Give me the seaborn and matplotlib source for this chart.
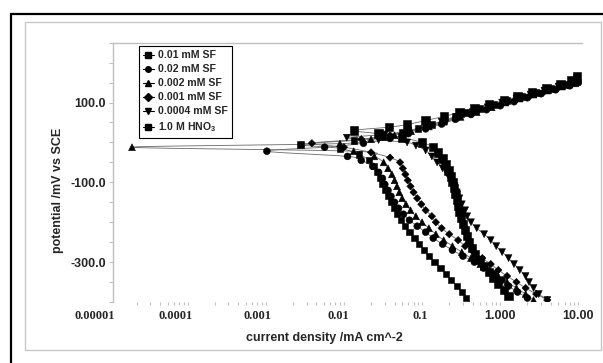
import numpy as np
import pandas as pd
import matplotlib
matplotlib.use("Agg")
import matplotlib.pyplot as plt
import matplotlib.transforms as mtransforms
from matplotlib.lines import Line2D
from matplotlib.patches import Rectangle
import seaborn as sns

# === Series labels and markers ===
series_names = ["0.01 mM SF", "0.02 mM SF", "0.002 mM SF", "0.001 mM SF",
                "0.0004 mM SF", "1.0 M HNO$_\\mathbf{3}$"]

# === Polarization data: potential (mV vs SCE) and current density (mA cm^-2) ===
pot_001 = [-420, -390, -375, -360, -345, -330, -315, -300, -285, -270, -255, -240, -225, -210,
           -195, -180, -165, -150, -135, -120, -105, -90, -75, -60, -45, -30, -15, -5,
           5, 15, 25, 35, 45, 55, 65, 75, 85, 95, 105, 115, 125, 135, 145, 155]
cur_001 = [0.45, 0.33, 0.29, 0.25, 0.21, 0.18, 0.155, 0.13, 0.11, 0.095, 0.083, 0.072, 0.062, 0.055,
           0.048, 0.043, 0.039, 0.036, 0.033, 0.030, 0.028, 0.026, 0.024, 0.022, 0.019, 0.014, 0.008, 0.0025,
           0.012, 0.028, 0.05, 0.08, 0.12, 0.17, 0.24, 0.33, 0.5, 0.75, 1.1, 1.7, 2.6, 4.0, 6.0, 8.5]

pot_002 = [-390, -375, -360, -345, -330, -315, -300, -285, -270, -255, -240, -225, -210, -195,
           -180, -165, -150, -135, -120, -105, -90, -75, -60, -45, -35, -22,
           -12, -2, 10, 22, 34, 46, 58, 70, 82, 92, 102, 112, 122, 132, 142, 150]
cur_002 = [2.0, 1.5, 1.15, 0.95, 0.75, 0.55, 0.42, 0.3, 0.22, 0.165, 0.125, 0.1, 0.078, 0.062,
           0.052, 0.045, 0.04, 0.036, 0.033, 0.030, 0.028, 0.025, 0.021, 0.015, 0.010, 0.00093,
           0.0051, 0.016, 0.035, 0.06, 0.1, 0.16, 0.24, 0.38, 0.6, 0.9, 1.35, 2.0, 3.0, 4.6, 7.0, 9.0]

pot_0002 = [-395, -380, -365, -350, -335, -320, -305, -290, -275, -260, -245, -230, -215, -200,
            -185, -170, -155, -140, -125, -110, -95, -80, -65, -50, -35, -22, -12,
            -3, 8, 18, 28, 40, 52, 64, 76, 88, 100, 110, 120, 130, 140, 148]
cur_0002 = [2.4, 1.9, 1.45, 1.1, 0.85, 0.65, 0.5, 0.38, 0.29, 0.22, 0.17, 0.135, 0.11, 0.09,
            0.075, 0.064, 0.056, 0.05, 0.046, 0.043, 0.040, 0.037, 0.033, 0.029, 0.022, 0.012, 0.0000175,
            0.008, 0.02, 0.04, 0.065, 0.11, 0.17, 0.28, 0.45, 0.7, 1.05, 1.6, 2.4, 3.6, 5.5, 8.2]

pot_0001 = [-395, -380, -365, -350, -335, -320, -305, -290, -275, -260, -245, -230, -215, -200,
            -185, -170, -155, -140, -125, -110, -95, -80, -65, -50, -38, -25, -12, -2,
            8, 18, 28, 38, 50, 62, 74, 86, 98, 108, 118, 128, 138, 148, 158]
cur_0001 = [3.6, 2.6, 1.9, 1.45, 1.1, 0.85, 0.68, 0.53, 0.41, 0.32, 0.26, 0.2, 0.16, 0.135,
            0.12, 0.1, 0.088, 0.078, 0.07, 0.064, 0.059, 0.055, 0.051, 0.047, 0.035, 0.02, 0.009, 0.0035,
            0.015, 0.035, 0.06, 0.1, 0.17, 0.26, 0.4, 0.62, 0.95, 1.45, 2.2, 3.3, 5.0, 7.5, 8.8]

pot_00004 = [-395, -380, -365, -350, -335, -320, -305, -290, -275, -260, -245, -230, -215, -200,
             -185, -170, -155, -140, -125, -110, -95, -80, -65, -50, -35, -20, -8, 0, 6, 12,
             20, 30, 40, 52, 64, 76, 88, 100, 110, 120, 130, 140, 152, 160]
cur_00004 = [3.6, 2.8, 2.4, 2.1, 1.9, 1.6, 1.35, 1.15, 0.95, 0.8, 0.68, 0.56, 0.45, 0.38,
             0.34, 0.32, 0.29, 0.27, 0.25, 0.235, 0.215, 0.19, 0.165, 0.14, 0.12, 0.1, 0.075, 0.058, 0.025, 0.0098,
             0.03, 0.06, 0.1, 0.16, 0.25, 0.4, 0.62, 0.95, 1.45, 2.2, 3.3, 5.0, 7.5, 8.6]

pot_hno3 = [-385, -370, -355, -340, -325, -310, -295, -280, -265, -250, -235, -220, -205, -190,
            -175, -160, -145, -130, -115, -100, -85, -70, -55, -40, -25, -12, 0, 12, 22, 30,
            38, 45, 55, 65, 75, 85, 95, 105, 115, 125, 135, 145, 155, 165]
cur_hno3 = [1.15, 1.0, 0.85, 0.74, 0.64, 0.56, 0.49, 0.43, 0.39, 0.36, 0.34, 0.32, 0.3, 0.285,
            0.27, 0.26, 0.25, 0.24, 0.23, 0.22, 0.21, 0.195, 0.18, 0.165, 0.145, 0.125, 0.09, 0.05, 0.025, 0.012,
            0.034, 0.058, 0.1, 0.17, 0.27, 0.42, 0.65, 1.0, 1.5, 2.3, 3.5, 5.3, 7.2, 8.6]

pots = [pot_001, pot_002, pot_0002, pot_0001, pot_00004, pot_hno3]
curs = [cur_001, cur_002, cur_0002, cur_0001, cur_00004, cur_hno3]
markers = {series_names[0]: "s", series_names[1]: "o", series_names[2]: "^",
           series_names[3]: "D", series_names[4]: "v", series_names[5]: "s"}
sizes = {series_names[0]: 20, series_names[1]: 24, series_names[2]: 24,
         series_names[3]: 14, series_names[4]: 24, series_names[5]: 36}


def smooth(cur, pot, n=14):
    # Excel-like smoothed line (uniform Catmull-Rom in log-current space)
    P = np.column_stack([np.log10(cur), np.asarray(pot, float)])
    P = np.vstack([P[0], P, P[-1]])
    t = np.linspace(0, 1, n, endpoint=False)[:, None]
    out = []
    for i in range(1, len(P) - 2):
        p0, p1, p2, p3 = P[i - 1], P[i], P[i + 1], P[i + 2]
        out.append(0.5 * (2 * p1 + (p2 - p0) * t + (2 * p0 - 5 * p1 + 4 * p2 - p3) * t ** 2
                          + (3 * p1 - p0 - 3 * p2 + p3) * t ** 3))
    out.append(P[-2][None])
    out = np.vstack(out)
    return 10 ** out[:, 0], out[:, 1]


pts = pd.concat([pd.DataFrame({"current": c, "potential": p, "series": s})
                 for s, c, p in zip(series_names, curs, pots)], ignore_index=True)
lines = []
for s, c, p in zip(series_names, curs, pots):
    sx, sy = smooth(c, p)
    lines.append(pd.DataFrame({"current": sx, "potential": sy, "series": s}))
lines = pd.concat(lines, ignore_index=True)

# === Style ===
sns.set_style("white")
plt.rcParams["font.family"] = ["Liberation Sans", "DejaVu Sans"]
plt.rcParams["mathtext.fontset"] = "custom"
plt.rcParams["mathtext.rm"] = "Liberation Sans"
plt.rcParams["mathtext.bf"] = "Liberation Sans:bold"

fig = plt.figure(figsize=(6.03, 3.63), dpi=100)
ax = fig.add_axes([113 / 603, 1 - 302 / 363, 469 / 603, 259.3 / 363])

sns.lineplot(data=lines, x="current", y="potential", units="series", estimator=None,
             sort=False, color="#6a6a6a", lw=0.6, ax=ax, legend=False)
sns.scatterplot(data=pts, x="current", y="potential", style="series", markers=markers,
                size="series", sizes=sizes, color="black", edgecolor="black", linewidth=0.4,
                ax=ax, legend=False, zorder=3)

ax.set_xscale("log")
ax.set_xlim(1e-5, 10)
ax.set_ylim(-400, 250)

# y axis
ax.set_yticks([-300, -100, 100])
ax.set_yticklabels(["-300.0", "-100.0", "100.0"], fontsize=9, fontweight="bold")
ax.set_yticks(np.arange(-400, 251, 50), minor=True)
ax.tick_params(axis="y", which="both", direction="out", length=3, width=0.8,
               color="#c0c0c0", left=True, pad=2)

# x axis
xt = [1e-5, 1e-4, 1e-3, 1e-2, 1e-1, 1, 10]
xt_labels = ["0.00001", "0.0001", "0.001", "0.01", "0.1", "1.000", "10.00"]
ax.set_xticks(xt)
ax.set_xticklabels(xt_labels, fontsize=9, fontweight="bold")
ax.set_xticks([m * d for d in xt[:-1] for m in range(2, 10)], minor=True)
ax.xaxis.set_minor_formatter(plt.NullFormatter())
ax.tick_params(axis="x", which="major", length=0, pad=6)
ax.tick_params(axis="x", which="minor", direction="out", length=2, width=0.8,
               color="#c0c0c0", bottom=True)
for i, lab in enumerate(ax.get_xticklabels()):
    lab.set_horizontalalignment("right")
    if i < 5:
        lab.set_fontfamily("Liberation Serif")
        dx = 2
    else:
        dx = 12
    lab.set_transform(lab.get_transform() + mtransforms.ScaledTranslation(dx / 100, 0, fig.dpi_scale_trans))

for side in ["right", "bottom"]:
    ax.spines[side].set_visible(False)
for side in ["left", "top"]:
    ax.spines[side].set_color("#c0c0c0")
    ax.spines[side].set_linewidth(1.0)

ax.set_xlabel("current density /mA cm^-2", fontsize=9, fontweight="bold")
ax.set_ylabel("potential /mV vs SCE", fontsize=9, fontweight="bold")
ax.xaxis.set_label_coords(0.45, -0.115)
ax.yaxis.set_label_coords(-0.105, 0.43)

# === Legend ===
handles = [Line2D([0], [0], color="black", lw=0.8, marker=markers[s],
                  markersize=(5 if s == series_names[5] else 4),
                  markerfacecolor="black", markeredgecolor="black") for s in series_names]
leg = ax.legend(handles, series_names, loc="upper left", bbox_to_anchor=(0.055, 0.987),
                borderaxespad=0, frameon=True, fancybox=False, framealpha=1,
                edgecolor="black", handlelength=1.0, handletextpad=0.4, borderpad=0.4,
                labelspacing=0.38, prop={"family": "Liberation Sans", "weight": "bold", "size": 7.6})
leg.get_frame().set_linewidth(0.8)

# === Figure frames ===
fig.patches.append(Rectangle((25 / 603, 1 - 350 / 363), 576 / 603, 328 / 363, transform=fig.transFigure,
                             fill=False, edgecolor="#c8c8c8", lw=1.0))
fig.patches.append(Rectangle((11 / 603, -0.1), 1.2, 1 - 14 / 363 + 0.1, transform=fig.transFigure,
                             fill=False, edgecolor="black", lw=1.6, clip_on=False))

fig.savefig("out.png", dpi=100)
